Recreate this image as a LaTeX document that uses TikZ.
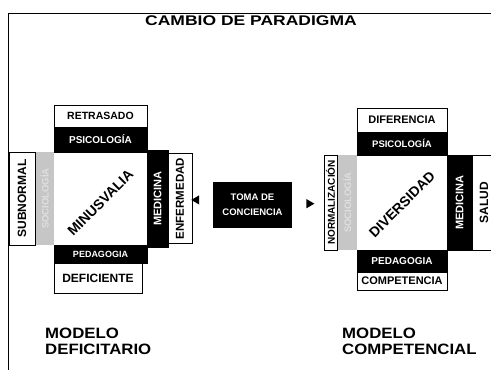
\documentclass[tikz,border=0pt]{standalone}
\usepackage{fontspec}
\setmainfont{Liberation Sans}
\newfontfamily\widefont[FakeStretch=1.12]{Liberation Sans}
\newfontfamily\titlefont[FakeStretch=1.25]{Liberation Sans}
\usetikzlibrary{positioning,shapes.geometric}

\begin{document}
\begin{tikzpicture}[x=1pt,y=-1pt,
    box/.style={draw, inner sep=0pt, outer sep=0pt, font=\bfseries},
    wbox/.style={box, fill=white},
    bbox/.style={box, fill=black, text=white},
    gbox/.style={inner sep=0pt, outer sep=0pt, fill=gray!45},
    sz/.style={font=\bfseries\fontsize{#1}{#1}\selectfont},
    vtxt/.style n args={3}{label={[rotate=90, inner sep=0pt, text=#2, font=\bfseries\fontsize{#3}{#3}\selectfont]center:#1}},
    tri/.style={isosceles triangle, isosceles triangle apex angle=60, fill=black, inner sep=0pt, minimum size=8pt}]
  \useasboundingbox (0,0) rectangle (491,370);
  \draw[line width=0.8pt] (491,13) -- (8,13) -- (8,370);
  \node[font=\titlefont\bfseries\fontsize{14}{14}\selectfont] (title) at (251,21) {CAMBIO DE PARADIGMA};

  % modelo deficitario
  \node[inner sep=0pt, outer sep=0pt, minimum width=93pt, minimum height=93pt] (minusL) at (100.5,198.5) {};
  \node[bbox, minimum width=93pt, minimum height=25pt, above=0pt of minusL, sz=10] (psicL) {PSICOLOGÍA};
  \node[wbox, minimum width=93pt, minimum height=22pt, above=0pt of psicL, sz=10.5] (retrL) {RETRASADO};
  \node[bbox, minimum width=93pt, minimum height=18pt, below=0pt of minusL, sz=9] (pedaL) {PEDAGOGIA};
  \node[wbox, minimum width=88pt, minimum height=30pt, below=0pt of pedaL, xshift=-2.5pt, sz=12] (defiL) {DEFICIENTE};
  \node[gbox, minimum width=19pt, minimum height=93pt, left=0pt of minusL, vtxt={SOCIOLOGÍA}{gray!25}{9.5}] (socL) {};
  \node[wbox, minimum width=26pt, minimum height=93pt, left=0pt of socL, vtxt={SUBNORMAL}{black}{12}] (subnL) {};
  \node[bbox, minimum width=21pt, minimum height=97pt, right=0pt of minusL, vtxt={MEDICINA}{white}{11}] (mediL) {};
  \node[wbox, minimum width=24pt, minimum height=90pt, right=0pt of mediL, vtxt={ENFERMEDAD}{black}{11.5}] (enfeL) {};
  \node[rotate=45, sz=14] (minusTxt) at ([yshift=-4pt]minusL.center) {MINUSVALIA};

  % toma de conciencia
  \node[fill=black, text=white, inner sep=0pt, minimum width=79pt, minimum height=46pt, align=center,
        font=\bfseries\fontsize{9.5}{15}\selectfont] (toma) at (252.5,205) {TOMA DE\\CONCIENCIA};

  % modelo competencial
  \node[inner sep=0pt, outer sep=0pt, minimum width=90pt, minimum height=95pt] (divR) at (402,202.5) {};
  \node[bbox, minimum width=90pt, minimum height=23pt, above=0pt of divR, sz=9.5] (psicR) {PSICOLOGÍA};
  \node[wbox, minimum width=90pt, minimum height=24pt, above=0pt of psicR, sz=11] (difeR) {DIFERENCIA};
  \node[bbox, minimum width=90pt, minimum height=22pt, below=0pt of divR, sz=10] (pedaR) {PEDAGOGIA};
  \node[wbox, minimum width=90pt, minimum height=18pt, below=0pt of pedaR, sz=11] (compR) {COMPETENCIA};
  \node[gbox, minimum width=20pt, minimum height=95pt, left=0pt of divR, vtxt={SOCIOLOGÍA}{gray!25}{9.5}] (socR) {};
  \node[wbox, minimum width=13pt, minimum height=95pt, left=0pt of socR, vtxt={NORMALIZACIÓN}{black}{10}] (normR) {};
  \node[bbox, minimum width=25pt, minimum height=95pt, right=0pt of divR, vtxt={MEDICINA}{white}{11}] (mediR) {};
  \node[wbox, minimum width=24pt, minimum height=95pt, right=0pt of mediR, vtxt={SALUD}{black}{12}] (saludR) {};
  \node[rotate=45, sz=14] (divTxt) at ([yshift=-2pt]divR.center) {DIVERSIDAD};

  % flechas
  \path (toma.west) -- (enfeL.east) node[tri, pos=0.78, shape border rotate=180] (arrL) {};
  \path (toma.east) -- (normR.west) node[tri, pos=0.53] (arrR) {};

  \node[anchor=north west, align=left, inner sep=0pt, font=\widefont\bfseries\fontsize{15}{16}\selectfont] (modDef) at (45,328) {MODELO\\DEFICITARIO};
  \node[anchor=north west, align=left, inner sep=0pt, font=\widefont\bfseries\fontsize{15}{16}\selectfont] (modComp) at (342,328) {MODELO\\COMPETENCIAL};
\end{tikzpicture}
\end{document}
